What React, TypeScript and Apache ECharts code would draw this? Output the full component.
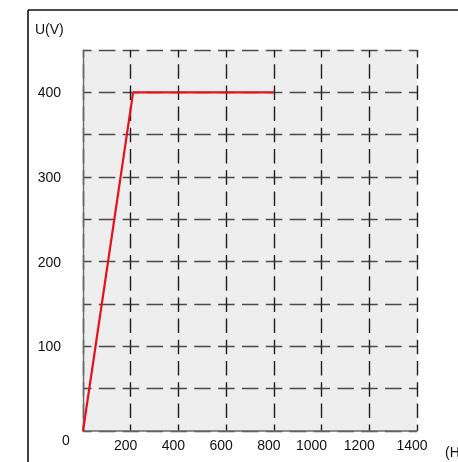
import React, { useEffect, useRef } from "react";
import * as echarts from "echarts";

const freqHz = [0, 210, 800];
const voltageV = [0, 400, 400];
const xTicks = [200, 400, 600, 800, 1000, 1200, 1400];
const yTicks = [100, 200, 300, 400];

const FONT = "'Liberation Sans', Arial, sans-serif";
const FS = 14;

export default function App() {
  const ref = useRef<HTMLDivElement>(null);
  useEffect(() => {
    const chart = echarts.init(ref.current!, null, { renderer: "svg" });
    chart.setOption({
      animation: false,
      grid: {
        left: 83,
        top: 50,
        right: 41,
        bottom: 31,
        show: true,
        backgroundColor: "#eeeeee",
        borderWidth: 0,
        containLabel: false,
        outerBoundsMode: "none",
      },
      xAxis: {
        type: "value",
        min: 0,
        max: 1400,
        interval: 200,
        name: "(Hz)",
        nameLocation: "end",
        nameGap: 28,
        nameTextStyle: { fontFamily: FONT, fontSize: FS, color: "#111", verticalAlign: "top", padding: [14, 0, 0, 0] },
        axisLine: { show: true, lineStyle: { color: "#6a6a6a", width: 1.6 } },
        axisTick: { show: false },
        splitLine: {
          show: true,
          lineStyle: { color: "#1e1e1e", width: 1.4, type: [14.5, 6.7], dashOffset: 7.25 },
        },
        axisLabel: {
          margin: 7,
          fontFamily: FONT,
          fontSize: FS,
          color: "#111",
          formatter: (v: number) => {
            if (!xTicks.includes(v)) return "";
            return v === 1000 || v === 1200 ? `{w|${v}}` : `{n|${v}}`;
          },
          rich: {
            n: { fontFamily: FONT, fontSize: FS, color: "#111", padding: [0, 10, 0, 0] },
            w: { fontFamily: FONT, fontSize: FS, color: "#111", padding: [0, 20, 0, 0] },
          },
        },
      },
      yAxis: {
        type: "value",
        min: 0,
        max: 450,
        interval: 50,
        axisLine: { show: true, lineStyle: { color: "#6a6a6a", width: 1.4 } },
        axisTick: { show: false },
        splitLine: {
          show: true,
          lineStyle: { color: "#4a4a4a", width: 1.4, type: [16.5, 7.35], dashOffset: 8.25 },
        },
        axisLabel: {
          margin: 22,
          fontFamily: FONT,
          fontSize: FS,
          color: "#111",
          formatter: (v: number) => (yTicks.includes(v) ? String(v) : ""),
        },
      },
      graphic: [
        { type: "line", shape: { x1: 28, y1: 10, x2: 458, y2: 10 }, style: { stroke: "#111", lineWidth: 1.6 } },
        { type: "line", shape: { x1: 28, y1: 10, x2: 28, y2: 462 }, style: { stroke: "#111", lineWidth: 1.6 } },
        { type: "text", x: 35, y: 22, style: { text: "U(V)", font: `${FS}px ${FONT}`, fill: "#111" } },
        { type: "text", x: 62, y: 433, style: { text: "0", font: `${FS}px ${FONT}`, fill: "#111" } },
      ],
      series: [
        {
          type: "line",
          data: freqHz.map((f, i) => [f, voltageV[i]]),
          showSymbol: false,
          lineStyle: { color: "#e8101f", width: 2.2 },
          z: 5,
        },
      ],
    });
    return () => chart.dispose();
  }, []);
  return <div ref={ref} style={{ position: "fixed", left: 0, top: 0, width: 458, height: 462 }} />;
}
